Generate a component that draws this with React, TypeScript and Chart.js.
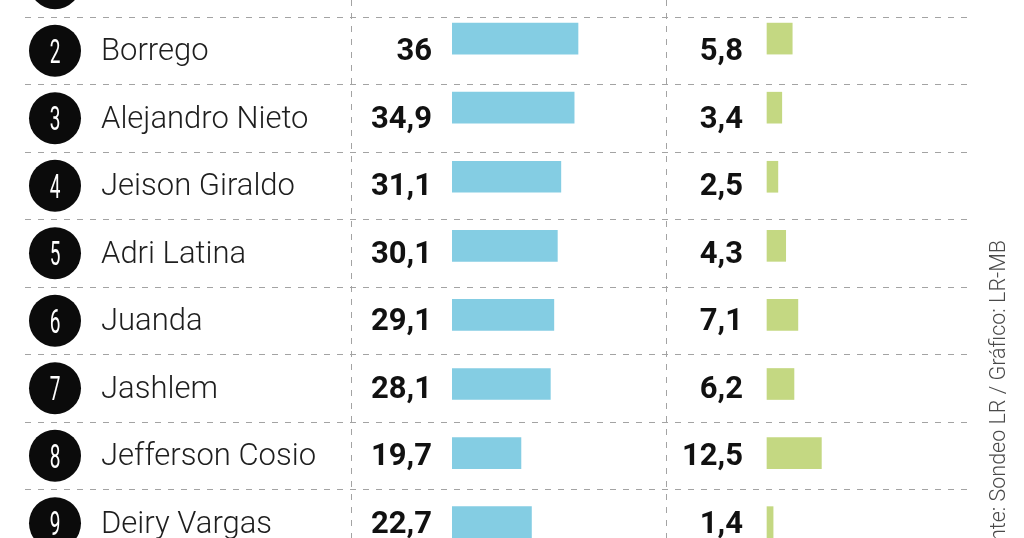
import React, { useEffect, useRef } from 'react';
import { Chart, registerables } from 'chart.js';

Chart.register(...registerables);

// Ranking rows: rank 1 sits above the visible top edge, only its badge shows.
const ranks = [1, 2, 3, 4, 5, 6, 7, 8, 9];
const names = [null, 'Borrego', 'Alejandro Nieto', 'Jeison Giraldo', 'Adri Latina', 'Juanda', 'Jashlem', 'Jefferson Cosio', 'Deiry Vargas'];
const blueValues = [null, 36, 34.9, 31.1, 30.1, 29.1, 28.1, 19.7, 22.7];
const greenValues = [null, 5.8, 3.4, 2.5, 4.3, 7.1, 6.2, 12.5, 1.4];
const sourceText = 'Fuente: Sondeo LR / Gráfico: LR-MB';

const W = 1024;
const H = 538;
const BLUE_START = 452;
const GREEN_START = 767;
const BLUE_PX_PER_UNIT = 3.5;
const GREEN_PX_PER_UNIT = 4.35;

const fmt = (v: number) => String(v).replace('.', ',');

const tablePlugin = {
  id: 'rankTable',
  beforeDatasetsDraw(chart: any) {
    const ctx = chart.ctx as CanvasRenderingContext2D;
    const yr = chart.scales.yr;
    ctx.save();
    ctx.strokeStyle = '#a3a3a3';
    ctx.lineWidth = 1;
    ctx.setLineDash([6, 7]);
    // row separators
    ranks.forEach((r) => {
      const y = Math.round(yr.getPixelForValue(r + 0.5)) + 0.5;
      if (y < 0 || y > H) return;
      ctx.beginPath();
      ctx.moveTo(25, y);
      ctx.lineTo(967, y);
      ctx.stroke();
    });
    // column separators
    [351, 666].forEach((x) => {
      ctx.beginPath();
      ctx.moveTo(x + 0.5, 0);
      ctx.lineTo(x + 0.5, H);
      ctx.stroke();
    });
    ctx.restore();
  },
  afterDatasetsDraw(chart: any) {
    const ctx = chart.ctx as CanvasRenderingContext2D;
    const yr = chart.scales.yr;
    ctx.save();
    ranks.forEach((r, i) => {
      const cy = yr.getPixelForValue(r);
      // rank badge
      ctx.fillStyle = '#0b0b0b';
      ctx.beginPath();
      ctx.arc(55, cy, 26, 0, Math.PI * 2);
      ctx.fill();
      ctx.save();
      ctx.translate(55, cy + 12);
      ctx.scale(0.56, 1);
      ctx.fillStyle = '#ffffff';
      ctx.font = '400 34px Roboto';
      ctx.textAlign = 'center';
      ctx.textBaseline = 'alphabetic';
      ctx.fillText(String(r), 0, 0);
      ctx.restore();

      const base = cy + 9.8;
      const name = names[i];
      if (name) {
        ctx.fillStyle = '#1e1e1e';
        ctx.font = '300 31px Roboto';
        ctx.textAlign = 'left';
        ctx.textBaseline = 'alphabetic';
        ctx.fillText(name, 101, base);
      }
      const b = blueValues[i];
      if (b != null) {
        ctx.fillStyle = '#111111';
        ctx.font = '700 31px Roboto';
        ctx.textAlign = 'right';
        ctx.fillText(fmt(b), 432, base);
      }
      const g = greenValues[i];
      if (g != null) {
        ctx.fillStyle = '#111111';
        ctx.font = '700 31px Roboto';
        ctx.textAlign = 'right';
        ctx.fillText(fmt(g), 743, base);
      }
    });

    // vertical source credit
    ctx.save();
    ctx.translate(1005, 240);
    ctx.rotate(-Math.PI / 2);
    ctx.fillStyle = '#4a4a4a';
    ctx.font = '300 21.5px Roboto';
    ctx.textAlign = 'right';
    ctx.textBaseline = 'alphabetic';
    ctx.fillText(sourceText, 0, 0);
    ctx.restore();

    ctx.restore();
  },
};

export default function App() {
  const canvasRef = useRef<HTMLCanvasElement | null>(null);

  useEffect(() => {
    const canvas = canvasRef.current;
    if (!canvas) return;

    const toPoints = (vals: (number | null)[]) =>
      ranks
        .map((r, i) => ({ x: vals[i], y: r }))
        .filter((p) => p.x != null) as { x: number; y: number }[];

    const chart = new Chart(canvas, {
      type: 'bar',
      data: {
        datasets: [
          {
            label: 'Serie azul',
            data: toPoints(blueValues),
            backgroundColor: '#84cde3',
            xAxisID: 'xb',
            yAxisID: 'yb',
            barThickness: 31,
            grouped: false,
            borderWidth: 0,
          } as any,
          {
            label: 'Serie verde',
            data: toPoints(greenValues),
            backgroundColor: '#c4d882',
            xAxisID: 'xg',
            yAxisID: 'yb',
            barThickness: 31,
            grouped: false,
            borderWidth: 0,
          } as any,
        ],
      },
      options: {
        indexAxis: 'y',
        animation: false,
        responsive: false,
        events: [],
        layout: { padding: { left: BLUE_START, right: 0, top: 0, bottom: 0 } },
        plugins: {
          legend: { display: false },
          tooltip: { enabled: false },
        },
        scales: {
          xb: {
            type: 'linear',
            axis: 'x',
            display: false,
            offset: false,
            min: 0,
            max: (W - BLUE_START) / BLUE_PX_PER_UNIT,
          },
          xg: {
            type: 'linear',
            axis: 'x',
            display: false,
            offset: false,
            min: -(GREEN_START - BLUE_START) / GREEN_PX_PER_UNIT,
            max: (W - GREEN_START) / GREEN_PX_PER_UNIT,
          },
          yb: {
            type: 'linear',
            axis: 'y',
            display: false,
            offset: false,
            reverse: true,
            min: 1.4412,
            max: 9.2293,
          },
          yr: {
            type: 'linear',
            axis: 'y',
            display: false,
            offset: false,
            reverse: true,
            min: 1.2489,
            max: 9.2193,
          },
        },
      } as any,
      plugins: [tablePlugin],
    });

    return () => chart.destroy();
  }, []);

  return (
    <div style={{ position: 'fixed', left: 0, top: 0, width: W, height: H, background: '#ffffff' }}>
      <canvas ref={canvasRef} width={W} height={H} style={{ display: 'block', width: W, height: H }} />
    </div>
  );
}
